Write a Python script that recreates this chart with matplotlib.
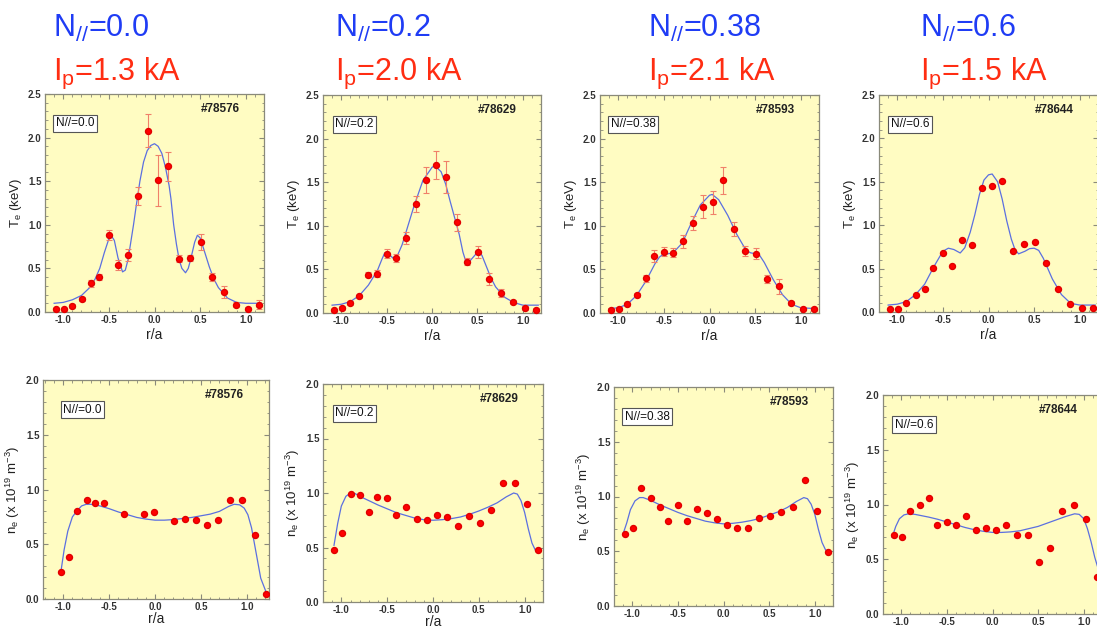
import numpy as np
import matplotlib
matplotlib.use('Agg')
import matplotlib.pyplot as plt
from matplotlib.ticker import MultipleLocator, FormatStrFormatter

plt.rcParams['font.family'] = ['Liberation Sans', 'DejaVu Sans']
plt.rcParams['mathtext.fontset'] = 'custom'
plt.rcParams['mathtext.rm'] = 'Liberation Sans'
plt.rcParams['mathtext.it'] = 'Liberation Sans:italic'
plt.rcParams['mathtext.bf'] = 'Liberation Sans:bold'

nan = np.nan

# ---------------- data ----------------
n_par = ['0.0', '0.2', '0.38', '0.6']
ip_ka = ['1.3', '2.0', '2.1', '1.5']
shots = ['#78576', '#78629', '#78593', '#78644']

# radial channel positions (r/a)
R = [-1.08, -0.99, -0.90, -0.80, -0.70, -0.61, -0.50, -0.40, -0.29, -0.18, -0.07,
     0.04, 0.15, 0.27, 0.39, 0.51, 0.63, 0.76, 0.89, 1.02, 1.15]
R_ne5 = [-1.025, -0.935, -0.845, -0.745, -0.65, -0.555, -0.45, -0.34, -0.235, -0.125, -0.015,
         0.095, 0.205, 0.33, 0.45, 0.57, 0.69, 0.82, 0.95, 1.085, 1.21]

# Te (keV)
te1 = [0.03, 0.03, 0.07, 0.15, 0.33, 0.40, 0.885, 0.54, 0.65, 1.33, 2.08, 1.51, 1.67, 0.61, 0.62, 0.80, 0.40, 0.23, 0.085, 0.04, 0.085]
te2 = [0.03, 0.06, 0.115, 0.19, 0.44, 0.45, 0.68, 0.63, 0.86, 1.25, 1.53, 1.70, 1.56, 1.04, 0.59, 0.70, 0.39, 0.23, 0.125, 0.055, 0.04]
te3 = [0.04, 0.05, 0.10, 0.205, 0.40, 0.655, 0.705, 0.69, 0.82, 1.03, 1.22, 1.27, 1.52, 0.96, 0.71, 0.68, 0.39, 0.305, 0.115, 0.05, 0.045]
te4 = [0.035, 0.04, 0.10, 0.20, 0.265, 0.51, 0.675, 0.525, 0.83, 0.77, 1.425, 1.45, 1.51, 0.70, 0.78, 0.81, 0.57, 0.27, 0.095, 0.045, 0.045]

te1_err = [0.02, 0.02, 0.02, 0.02, 0.04, 0.035, 0.06, 0.06, 0.07, 0.10, 0.19, 0.29, 0.17, 0.04, 0.03, 0.09, 0.05, 0.065, 0.03, 0.02, 0.05]
te2_err = [0.02, 0.02, 0.02, 0.02, 0.03, 0.04, 0.05, 0.05, 0.07, 0.09, 0.15, 0.16, 0.18, 0.10, 0.04, 0.07, 0.07, 0.05, 0.02, 0.02, 0.02]
te3_err = [0.02, 0.02, 0.02, 0.02, 0.04, 0.07, 0.05, 0.05, 0.08, 0.08, 0.13, 0.13, 0.16, 0.08, 0.06, 0.06, 0.05, 0.09, 0.02, 0.02, 0.02]

# Te fits
te1_fx = [-1.1, -1.0, -0.9, -0.8, -0.7, -0.65, -0.6, -0.55, -0.5, -0.47, -0.44, -0.4, -0.35, -0.32, -0.29, -0.26, -0.23, -0.2,
          -0.16, -0.12, -0.08, -0.04, 0.0, 0.04, 0.08, 0.12, 0.16, 0.18, 0.21, 0.24, 0.27, 0.30, 0.34, 0.37, 0.40, 0.44,
          0.47, 0.50, 0.54, 0.60, 0.65, 0.7, 0.8, 0.9, 1.0, 1.17]
te1_fy = [0.10, 0.11, 0.14, 0.19, 0.29, 0.38, 0.50, 0.68, 0.84, 0.87, 0.82, 0.62, 0.46, 0.48, 0.60, 0.80, 1.00, 1.22,
          1.50, 1.72, 1.85, 1.91, 1.93, 1.90, 1.82, 1.66, 1.45, 1.30, 1.00, 0.78, 0.60, 0.50, 0.45, 0.50, 0.62, 0.80,
          0.88, 0.85, 0.72, 0.52, 0.38, 0.28, 0.16, 0.11, 0.10, 0.10]
te2_fx = [-1.1, -1.0, -0.9, -0.8, -0.7, -0.6, -0.55, -0.52, -0.47, -0.43, -0.38, -0.33, -0.3, -0.2, -0.1, 0.0, 0.03, 0.1,
          0.15, 0.2, 0.3, 0.34, 0.37, 0.42, 0.47, 0.51, 0.55, 0.6, 0.65, 0.7, 0.8, 0.9, 1.0, 1.17]
te2_fy = [0.09, 0.10, 0.13, 0.20, 0.32, 0.49, 0.62, 0.69, 0.67, 0.63, 0.66, 0.78, 0.88, 1.22, 1.52, 1.67, 1.69, 1.62,
          1.48, 1.28, 0.90, 0.70, 0.60, 0.60, 0.66, 0.71, 0.66, 0.53, 0.40, 0.30, 0.18, 0.12, 0.09, 0.09]
te3_fx = [-1.1, -1.0, -0.9, -0.8, -0.7, -0.6, -0.55, -0.5, -0.45, -0.4, -0.3, -0.2, -0.1, 0.0, 0.03, 0.1, 0.2, 0.3,
          0.4, 0.45, 0.5, 0.55, 0.6, 0.7, 0.8, 0.9, 1.0, 1.17]
te3_fy = [0.05, 0.06, 0.10, 0.20, 0.36, 0.56, 0.64, 0.68, 0.68, 0.69, 0.80, 1.03, 1.24, 1.35, 1.36, 1.30, 1.12, 0.90,
          0.72, 0.69, 0.68, 0.66, 0.58, 0.38, 0.21, 0.10, 0.06, 0.05]
te4_fx = [-1.1, -1.0, -0.9, -0.8, -0.7, -0.6, -0.5, -0.44, -0.38, -0.31, -0.26, -0.2, -0.15, -0.1, -0.05, 0.0, 0.04, 0.1,
          0.15, 0.2, 0.25, 0.29, 0.33, 0.4, 0.45, 0.5, 0.55, 0.6, 0.7, 0.8, 0.9, 1.0, 1.17]
te4_fy = [0.08, 0.09, 0.12, 0.20, 0.32, 0.52, 0.70, 0.735, 0.72, 0.68, 0.74, 0.92, 1.12, 1.35, 1.52, 1.58, 1.59, 1.50,
          1.30, 1.05, 0.84, 0.72, 0.67, 0.70, 0.73, 0.735, 0.71, 0.62, 0.38, 0.20, 0.10, 0.08, 0.08]

# ne (1e19 m^-3)
ne5 = [0.25, 0.385, 0.80, 0.90, 0.88, 0.88, nan, 0.78, nan, 0.78, 0.79, nan, 0.715, 0.73, 0.72, 0.675, 0.72, 0.905, 0.90, 0.58, 0.05]
ne6 = [0.48, 0.63, 0.99, 0.98, 0.825, 0.96, 0.95, 0.795, 0.87, 0.765, 0.75, 0.795, 0.78, 0.695, 0.79, 0.725, 0.84, 1.095, 1.095, 0.90, 0.48]
ne7 = [0.655, 0.71, 1.075, 0.99, 0.90, 0.78, 0.925, 0.78, 0.885, 0.845, 0.79, 0.74, 0.71, 0.715, 0.80, 0.82, 0.855, 0.90, 1.155, 0.87, 0.495]
ne8 = [0.72, 0.70, 0.945, 0.995, 1.06, 0.815, 0.84, 0.81, 0.895, 0.767, 0.785, 0.765, 0.815, 0.725, 0.72, 0.475, 0.60, 0.94, 1.00, 0.87, 0.34]

# ne fits
ne5_fx = [-1.025, -0.99, -0.95, -0.9, -0.845, -0.8, -0.75, -0.7, -0.6, -0.5, -0.4, -0.3, -0.2, -0.1, 0.0, 0.1, 0.2, 0.3,
          0.4, 0.5, 0.6, 0.7, 0.8, 0.86, 0.92, 0.97, 1.01, 1.05, 1.1, 1.15, 1.21]
ne5_fy = [0.25, 0.45, 0.62, 0.75, 0.81, 0.85, 0.865, 0.865, 0.85, 0.825, 0.795, 0.77, 0.745, 0.73, 0.72, 0.72, 0.725, 0.735,
          0.745, 0.76, 0.775, 0.80, 0.845, 0.865, 0.86, 0.83, 0.77, 0.65, 0.42, 0.19, 0.06]
ne6_fx = [-1.08, -1.04, -1.0, -0.95, -0.9, -0.85, -0.8, -0.7, -0.6, -0.5, -0.4, -0.3, -0.2, -0.1, 0.0, 0.1, 0.2, 0.3,
          0.4, 0.5, 0.6, 0.7, 0.8, 0.88, 0.92, 0.96, 1.0, 1.04, 1.08, 1.12, 1.17]
ne6_fy = [0.52, 0.72, 0.88, 0.97, 1.00, 0.995, 0.97, 0.93, 0.89, 0.855, 0.82, 0.795, 0.77, 0.755, 0.75, 0.755, 0.765, 0.78,
          0.805, 0.835, 0.87, 0.91, 0.965, 1.00, 0.99, 0.93, 0.82, 0.67, 0.54, 0.47, 0.47]
ne7_fx = [-1.1, -1.06, -1.02, -0.97, -0.92, -0.88, -0.8, -0.7, -0.6, -0.5, -0.4, -0.3, -0.2, -0.1, 0.0, 0.1, 0.2, 0.3,
          0.4, 0.5, 0.6, 0.7, 0.8, 0.88, 0.92, 0.96, 1.0, 1.04, 1.08, 1.12, 1.17]
ne7_fy = [0.66, 0.76, 0.88, 0.96, 0.99, 0.99, 0.965, 0.925, 0.89, 0.855, 0.825, 0.80, 0.775, 0.76, 0.75, 0.755, 0.765, 0.78,
          0.80, 0.83, 0.86, 0.90, 0.955, 0.99, 0.98, 0.93, 0.84, 0.70, 0.58, 0.51, 0.495]
ne8_fx = [-1.1, -1.06, -1.02, -0.97, -0.92, -0.85, -0.7, -0.6, -0.5, -0.4, -0.3, -0.2, -0.1, 0.0, 0.1, 0.2, 0.3, 0.4,
          0.5, 0.6, 0.7, 0.8, 0.9, 0.95, 1.0, 1.04, 1.08, 1.12, 1.17]
ne8_fy = [0.70, 0.80, 0.87, 0.905, 0.915, 0.91, 0.885, 0.865, 0.84, 0.815, 0.79, 0.77, 0.755, 0.745, 0.745, 0.75, 0.76, 0.78,
          0.80, 0.83, 0.86, 0.89, 0.915, 0.91, 0.87, 0.78, 0.66, 0.52, 0.38]

# ---------------- layout ----------------
W, H = 1097, 628
fig = plt.figure(figsize=(W / 100, H / 100), dpi=100)
fig.patch.set_facecolor('white')

# frames in pixels: left, right, top, bottom
top_frames = [(45, 264, 94, 312), (323, 541, 95, 313), (600, 819, 95, 313), (879, 1098, 95, 312)]
bot_frames = [(43, 269, 380, 599), (323, 543, 384, 602), (614, 833, 387, 606), (883, 1102, 395, 614)]
bot_has_xlabel = [True, True, False, False]
title_x = [53, 335, 648, 920]
box_x_top = [0.05, 0.057, 0.05, 0.053]
box_x_bot = [0.09, 0.056, 0.05, 0.053]

BG = '#fffcc2'
SP = '#8a8a7a'


def make_ax(fr, ylim, xlim=(-1.2, 1.2), xlabel=True, xlpad=1.5):
    l, r, t, b = fr
    ax = fig.add_axes([l / W, 1 - b / H, (r - l) / W, (b - t) / H])
    ax.set_facecolor(BG)
    ax.set_xlim(*xlim)
    ax.set_ylim(*ylim)
    ax.xaxis.set_major_locator(MultipleLocator(0.5))
    ax.xaxis.set_minor_locator(MultipleLocator(0.1))
    ax.yaxis.set_major_locator(MultipleLocator(0.5))
    ax.yaxis.set_minor_locator(MultipleLocator(0.1))
    ax.xaxis.set_major_formatter(FormatStrFormatter('%.1f'))
    ax.yaxis.set_major_formatter(FormatStrFormatter('%.1f'))
    ax.tick_params(which='both', direction='in', top=True, right=True, color=SP,
                   labelsize=7, labelcolor='#333333', pad=2.5)
    ax.tick_params(which='major', length=3.5, width=0.8)
    ax.tick_params(which='minor', length=1.8, width=0.6)
    for s in ax.spines.values():
        s.set_color(SP)
        s.set_linewidth(0.9)
    if xlabel:
        ax.set_xlabel('r/a', fontsize=10, color='#222222', labelpad=xlpad)
    return ax


def style_ticklabels(ax):
    for lab in ax.get_xticklabels() + ax.get_yticklabels():
        lab.set_fontweight('bold')


def decorate(ax, shot, npar, bx):
    ax.text(0.80, 0.93, shot, transform=ax.transAxes, ha='center', va='center',
            fontsize=8.5, fontweight='bold', color='#222222')
    ax.text(bx, 0.865, 'N//=' + npar, transform=ax.transAxes, ha='left', va='center',
            fontsize=8.5, color='#111111',
            bbox=dict(boxstyle='square,pad=0.22', fc='white', ec='#555555', lw=0.8))


te_all = [te1, te2, te3, te4]
te_err = [te1_err, te2_err, te3_err, None]
te_fx = [te1_fx, te2_fx, te3_fx, te4_fx]
te_fy = [te1_fy, te2_fy, te3_fy, te4_fy]
ne_all = [ne5, ne6, ne7, ne8]
ne_x = [R_ne5, R, R, R]
ne_fx = [ne5_fx, ne6_fx, ne7_fx, ne8_fx]
ne_fy = [ne5_fy, ne6_fy, ne7_fy, ne8_fy]
ne_xlim = [(-1.22, 1.24), (-1.2, 1.2), (-1.2, 1.2), (-1.2, 1.2)]

for i in range(4):
    # titles
    fig.text(title_x[i] / W, 1 - 37 / H, 'N$_{//}$=' + n_par[i], fontsize=22, color='#1f3cf5',
             ha='left', va='baseline')
    fig.text(title_x[i] / W, 1 - 80 / H, 'I$_\\mathrm{p}$=' + ip_ka[i] + ' kA', fontsize=22,
             color='#ff2d12', ha='left', va='baseline')

    # Te panel
    ax = make_ax(top_frames[i], (0, 2.5))
    ax.plot(te_fx[i], te_fy[i], color='#5b6fe0', lw=0.9, zorder=2)
    if te_err[i] is not None:
        ax.errorbar(R, te_all[i], yerr=te_err[i], fmt='none', ecolor='#f0806a',
                    elinewidth=0.8, capsize=2, capthick=0.8, zorder=3)
    ax.plot(R, te_all[i], 'o', color='#ff0000', mec='#e00000', ms=4.3, zorder=4, clip_on=False)
    ax.set_ylabel('T$_\\mathrm{e}$ (keV)', fontsize=9.5, color='#222222', labelpad=3)
    decorate(ax, shots[i], n_par[i], box_x_top[i])
    style_ticklabels(ax)

    # ne panel
    ax = make_ax(bot_frames[i], (0, 2.0), ne_xlim[i], xlabel=bot_has_xlabel[i], xlpad=0)
    ax.plot(ne_fx[i], ne_fy[i], color='#5b6fe0', lw=0.9, zorder=2)
    ax.plot(ne_x[i], ne_all[i], 'o', color='#ff0000', mec='#e00000', ms=4.3, zorder=4)
    ax.set_ylabel('n$_\\mathrm{e}$ (x 10$^{19}$ m$^{-3}$)', fontsize=9.5, color='#222222', labelpad=3)
    decorate(ax, shots[i], n_par[i], box_x_bot[i])
    style_ticklabels(ax)

fig.savefig('out.png', dpi=100, facecolor='white')
